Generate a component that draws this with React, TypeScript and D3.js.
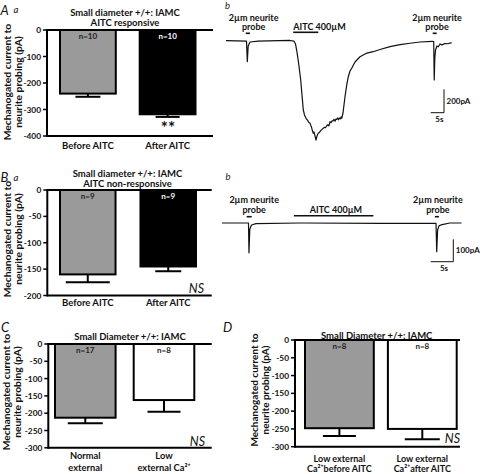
import React from "react";
import * as d3 from "d3";

const FONT = "Lato, 'DejaVu Sans', sans-serif";

// ---------- Panel A (bar) ----------
const aCategories = [["Before AITC"], ["After AITC"]];
const aValues = [-240, -318];
const aErrors = [12, 10];
const aCounts = ["n=10", "n=10"];
const aTicks = [0, -100, -200, -300, -400];
const aTitle = ["Small diameter +/+: IAMC", "AITC responsive"];

// ---------- Panel B (bar) ----------
const bCategories = [["Before AITC"], ["After AITC"]];
const bValues = [-160, -145];
const bErrors = [15, 9];
const bCounts = ["n=9", "n=9"];
const bTicks = [0, -50, -100, -150, -200];
const bTitle = ["Small diameter +/+: IAMC", "AITC non-responsive"];

// ---------- Panel C (bar) ----------
const cCategories = [["Normal", "external"], ["Low", "external Ca²⁺"]];
const cValues = [-213, -162];
const cErrors = [16, 34];
const cCounts = ["n=17", "n=8"];
const cTicks = [0, -50, -100, -150, -200, -250, -300];
const cTitle = ["Small Diameter +/+: IAMC"];

// ---------- Panel D (bar) ----------
const dCategories = [["Low external", "Ca²⁺before AITC"], ["Low external", "Ca²⁺after AITC"]];
const dValues = [-248, -250];
const dErrors = [22, 29];
const dCounts = ["n=8", "n=8"];
const dTicks = [0, -50, -100, -150, -200, -250, -300];
const dTitle = ["Small Diameter +/+: IAMC"];

const yLabel = ["Mechanogated current to", "neurite probing (pA)"];

// ---------- Trace A (time s, current pA) ----------
const traceATime = [
  0, 7.69, 7.99, 8.32, 9.0, 12.0, 24.0, 25.5, 26.06, 26.62, 27.37, 28.01, 28.5, 28.98, 29.43, 30.0,
  30.75, 31.1, 31.5, 31.8, 32.06, 32.4, 32.73, 33.0, 33.18, 33.5, 33.75, 33.95, 34.12, 34.4, 34.61, 35.0,
  35.25, 35.7, 36.0, 36.5, 36.9, 37.3, 37.7, 38.2, 38.6, 39.0, 39.4, 39.8, 40.12, 40.5, 40.9, 41.2, 41.5,
  41.9, 42.2, 42.56, 42.9, 43.2, 43.4, 43.87, 44.62, 45.26, 45.86, 46.49, 47.13, 48.37, 50.24, 52.5,
  55.12, 57.74, 61.5, 65.24, 69.0, 72.74, 77.24, 77.88, 78.07, 78.3, 78.56, 79.1, 79.6, 80.25, 81.0,
  82.1, 83.2, 84.6,
];
const traceACurrent = [
  0, -3, -179, -45, -11, -4, 2, -4, -28, -97, -216, -336, -464, -592, -635, -663,
  -686, -700, -706, -724, -738, -770, -791, -780, -797, -825, -849, -830, -815, -800, -791, -785,
  -776, -765, -758, -749, -740, -744, -729, -718, -728, -692, -700, -684, -686, -672, -688, -670, -672,
  -660, -676, -661, -668, -650, -663, -618, -479, -379, -308, -259, -236, -182, -137, -109,
  -94, -75, -51, -34, -22, -11, -5, -7, -336, -148, -79, -45, -52, -28, -36,
  -24, -26, -17,
];
const traceAEvents = [
  { lines: ["2µm neurite", "probe"], start: 7.4, end: 9.0 },
  { lines: ["AITC 400µM"], start: 25.2, end: 34.6 },
  { lines: ["2µm neurite", "probe"], start: 77.5, end: 79.0 },
];

// ---------- Trace B (time s, current pA) ----------
const traceBTime = [0, 5.86, 5.97, 6.15, 6.53, 7.5, 17.3, 35, 47.35, 47.5, 47.7, 48.0, 48.7, 50.4, 53];
const traceBCurrent = [0, 0, -133, -27, -9, -3, 0, -2, -2, -128, -31, -13, -7, 0, 0];
const traceBEvents = [
  { lines: ["2µm neurite", "probe"], start: 5.46, end: 6.57 },
  { lines: ["AITC 400µM"], start: 15.9, end: 33.5 },
  { lines: ["2µm neurite", "probe"], start: 47.1, end: 48.0 },
];

function BarPanel({ L, cats, values, errors, counts, ticks, fills, title }: any) {
  const y = d3.scaleLinear().domain([d3.min(ticks) as number, 0]).range([L.bottom, L.top]);
  const x = d3
    .scaleBand<string>()
    .domain(cats.map((_: any, i: number) => String(i)))
    .range([L.barStart, L.barEnd])
    .paddingInner(L.pad)
    .paddingOuter(0);
  const bw = x.bandwidth();
  return (
    <g fontFamily={FONT}>
      {title.map((t: string, i: number) => (
        <text key={"t" + i} x={L.titleX} y={L.titleY[i]} textAnchor="middle" dominantBaseline="central" fontSize="9.5" fontWeight="bold" fill="#111">
          {t}
        </text>
      ))}
      {yLabel.map((t, i) => (
        <text
          key={"yl" + i}
          transform={`translate(${L.ylabX[i]},${L.ylabY}) rotate(-90)`}
          textAnchor="middle"
          dominantBaseline="central"
          fontSize={L.ylabSize}
          fontWeight="bold"
          fill="#111"
        >
          {t}
        </text>
      ))}
      {values.map((v: number, i: number) => {
        const x0 = x(String(i)) as number;
        const cx = x0 + bw / 2;
        const e = errors[i];
        return (
          <g key={"b" + i}>
            <rect x={x0} y={y(0)} width={bw} height={y(v) - y(0)} fill={fills[i]} stroke="#000" strokeWidth={2} />
            <line x1={cx} x2={cx} y1={y(v)} y2={y(v - e)} stroke="#000" strokeWidth={2} />
            <line x1={cx - L.capW[i] / 2} x2={cx + L.capW[i] / 2} y1={y(v - e)} y2={y(v - e)} stroke="#000" strokeWidth={2} />
            <text x={cx} y={y(0) + 6} textAnchor="middle" dominantBaseline="central" fontSize="8" fontWeight="bold" fill={fills[i] === "#000" ? "#fff" : "#222"}>
              {counts[i]}
            </text>
            {cats[i].map((line: string, j: number) => (
              <text key={j} x={cx} y={L.xlabY[j]} textAnchor="middle" dominantBaseline="central" fontSize={L.xlabSize} fontWeight="bold" fill="#111">
                {line}
              </text>
            ))}
          </g>
        );
      })}
      <line x1={L.left} x2={L.right} y1={y(0)} y2={y(0)} stroke="#000" strokeWidth={2} />
      <line x1={L.left} x2={L.right} y1={L.bottom} y2={L.bottom} stroke="#000" strokeWidth={2} />
      <line x1={L.left} x2={L.left} y1={L.top - 1} y2={L.bottom + 1} stroke="#000" strokeWidth={2} />
      {ticks.map((t: number) => (
        <g key={"k" + t}>
          <line x1={L.left - 4} x2={L.left} y1={y(t)} y2={y(t)} stroke="#000" strokeWidth={1.5} />
          <text x={L.left - 6} y={y(t)} textAnchor="end" dominantBaseline="central" fontSize="8.3" fontWeight="bold" fill="#111">
            {t}
          </text>
        </g>
      ))}
      {L.ns && (
        <text x={L.ns.x} y={L.ns.y} textAnchor="end" dominantBaseline="central" fontSize="12.5" fontStyle="italic" fill="#111">
          NS
        </text>
      )}
    </g>
  );
}

function TracePanel({ L, time, current, events, scaleT, scaleI, unit }: any) {
  const x = d3.scaleLinear().domain([0, 1]).range([L.x0, L.x0 + L.pxPerS]);
  const y = d3.scaleLinear().domain([0, -1]).range([L.y0, L.y0 + L.pxPerPA]);
  const pts: [number, number][] = time.map((t: number, i: number) => [t, current[i]]);
  const line = d3
    .line<[number, number]>()
    .x((d) => x(d[0]))
    .y((d) => y(d[1]));
  const cx = L.scaleCorner[0];
  const cy = L.scaleCorner[1];
  const w = x(scaleT) - x(0);
  const h = y(-scaleI) - y(0);
  return (
    <g fontFamily={FONT}>
      <path d={line(pts) || ""} fill="none" stroke="#111" strokeWidth={1.2} strokeLinejoin="round" />
      {events.map((ev: any, i: number) => {
        const mid = (x(ev.start) + x(ev.end)) / 2 + L.labelDx[i];
        return (
          <g key={i}>
            <line x1={x(ev.start)} x2={x(ev.end)} y1={L.barY[i]} y2={L.barY[i]} stroke="#111" strokeWidth={1.6} />
            {ev.lines.map((t: string, j: number) => (
              <text key={j} x={mid} y={L.labelY[i][j]} textAnchor="middle" dominantBaseline="central" fontSize="9" fontWeight="bold" fill="#111">
                {t}
              </text>
            ))}
          </g>
        );
      })}
      <line x1={cx - w} x2={cx} y1={cy} y2={cy} stroke="#111" strokeWidth={1} />
      <line x1={cx} x2={cx} y1={cy} y2={cy - h} stroke="#111" strokeWidth={1} />
      <text x={cx + 2.5} y={cy - h / 2 - 0.5} dominantBaseline="central" fontSize="8" fontWeight="bold" fill="#111">
        {unit}
      </text>
      <text x={cx - w / 2 + 2} y={cy + 6} textAnchor="middle" dominantBaseline="central" fontSize="8" fontWeight="bold" fill="#111">
        {scaleT + "s"}
      </text>
    </g>
  );
}

const LA = { left: 47, right: 213, top: 30, bottom: 136, barStart: 60, barEnd: 195.5, pad: 0.3, capW: [25, 24], xlabY: [145.7], xlabSize: 9.5, titleX: 125, titleY: [12.7, 22.2], ylabX: [6.5, 17.5], ylabY: 82, ylabSize: 10.3 };
const LB = { left: 47.3, right: 211.7, top: 190, bottom: 295.5, barStart: 60, barEnd: 196, pad: 0.31, capW: [44, 26], xlabY: [302], xlabSize: 9.5, titleX: 127.5, titleY: [173.3, 183.3], ylabX: [6.5, 17.5], ylabY: 239, ylabSize: 10.3, ns: { x: 204, y: 288 } };
const LC = { left: 48.3, right: 211.7, top: 344, bottom: 447.8, barStart: 55, barEnd: 194.3, pad: 0.23, capW: [35, 33], xlabY: [455, 467.5], xlabSize: 9.3, titleX: 130, titleY: [336.7], ylabX: [6, 17], ylabY: 392, ylabSize: 10.3, ns: { x: 205, y: 441.7 } };
const LD = { left: 295, right: 460, top: 340, bottom: 446.7, barStart: 305, barEnd: 456.7, pad: 0.17, capW: [33, 35], xlabY: [458.5, 468.8], xlabSize: 9, titleX: 376.7, titleY: [335], ylabX: [253.5, 265], ylabY: 390, ylabSize: 10, ns: { x: 460, y: 438.5 } };

const TA = {
  x0: 226, pxPerS: 2.667, y0: 40.7, pxPerPA: 0.117,
  barY: [33.3, 32.3, 33.3], labelDx: [5.8, 13.8, 2.3],
  labelY: [[17.3, 26.9], [26.7], [17.3, 26.9]],
  scaleCorner: [444, 112.7],
};
const TB = {
  x0: 222, pxPerS: 4.52, y0: 223, pxPerPA: 0.224,
  barY: [216.7, 215.7, 216.7], labelDx: [5, 2.3, 1],
  labelY: [[199.8, 209.5], [209.3], [199.8, 209.5]],
  scaleCorner: [453.3, 261.7],
};

export default function App() {
  return (
    <svg width={480} height={474} style={{ position: "absolute", left: 0, top: 0, background: "#fff" }} fontFamily={FONT}>
      <rect width={480} height={474} fill="#fff" />
      <text x={0.5} y={9.5} fontSize="13" fontStyle="italic" dominantBaseline="central" fill="#111">A</text>
      <text x={13.5} y={9.8} fontSize="9.5" fontStyle="italic" dominantBaseline="central" fill="#111">a</text>
      <text x={225} y={5.5} fontSize="9.5" fontStyle="italic" dominantBaseline="central" fill="#111">b</text>
      <text x={0.5} y={176.5} fontSize="13" fontStyle="italic" dominantBaseline="central" fill="#111">B</text>
      <text x={13.5} y={177} fontSize="9.5" fontStyle="italic" dominantBaseline="central" fill="#111">a</text>
      <text x={225.5} y={176.5} fontSize="9.5" fontStyle="italic" dominantBaseline="central" fill="#111">b</text>
      <text x={1} y={327} fontSize="13" fontStyle="italic" dominantBaseline="central" fill="#111">C</text>
      <text x={223} y={327} fontSize="13" fontStyle="italic" dominantBaseline="central" fill="#111">D</text>

      <BarPanel L={LA} cats={aCategories} values={aValues} errors={aErrors} counts={aCounts} ticks={aTicks} fills={["#9a9a9a", "#000"]} title={aTitle} />
      <text x={168} y={127} textAnchor="middle" dominantBaseline="central" fontSize="17" fontWeight="bold" fontFamily={FONT} fill="#111">**</text>
      <BarPanel L={LB} cats={bCategories} values={bValues} errors={bErrors} counts={bCounts} ticks={bTicks} fills={["#9a9a9a", "#000"]} title={bTitle} />
      <BarPanel L={LC} cats={cCategories} values={cValues} errors={cErrors} counts={cCounts} ticks={cTicks} fills={["#9a9a9a", "#fff"]} title={cTitle} />
      <BarPanel L={LD} cats={dCategories} values={dValues} errors={dErrors} counts={dCounts} ticks={dTicks} fills={["#9a9a9a", "#fff"]} title={dTitle} />

      <TracePanel L={TA} time={traceATime} current={traceACurrent} events={traceAEvents} scaleT={5} scaleI={200} unit="200pA" />
      <TracePanel L={TB} time={traceBTime} current={traceBCurrent} events={traceBEvents} scaleT={5} scaleI={100} unit="100pA" />
    </svg>
  );
}
